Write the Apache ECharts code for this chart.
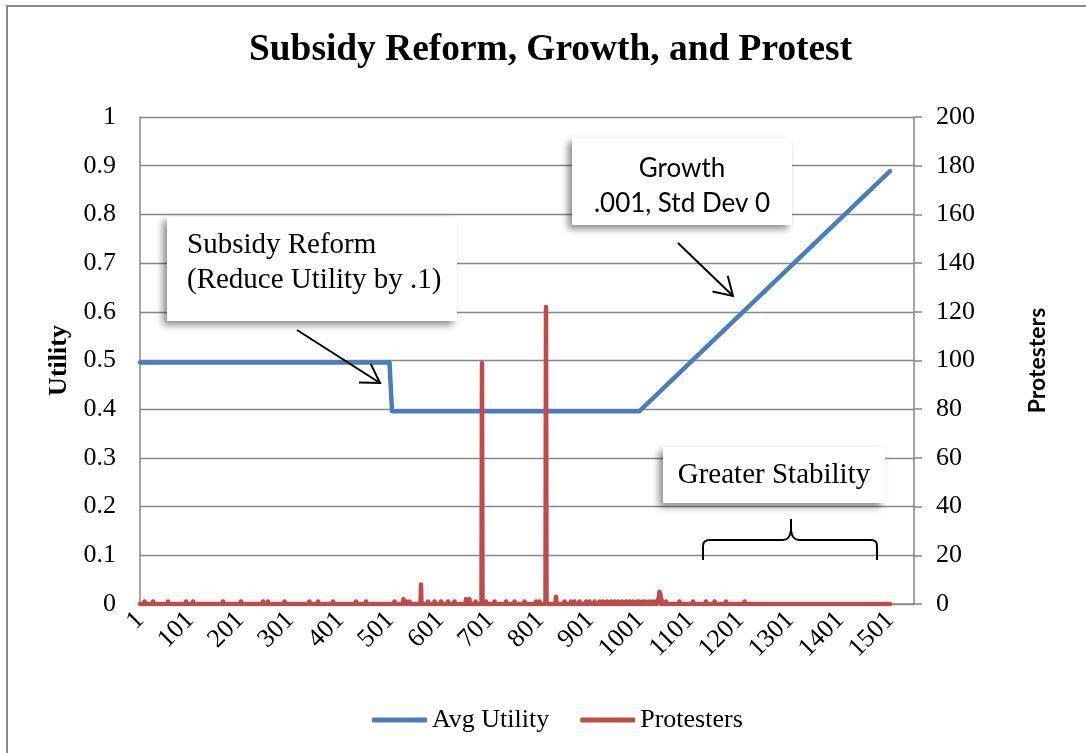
<!DOCTYPE html>
<html><head><meta charset="utf-8">
<script src="https://cdn.jsdelivr.net/npm/echarts@6/dist/echarts.min.js"></script>
<style>html,body{margin:0;padding:0;background:#fff}#c{width:1086px;height:753px}</style>
</head><body><div id="c"></div>
<script>
// ---- data ----
const titleText = 'Subsidy Reform, Growth, and Protest';
const seriesNames = ['Avg Utility', 'Protesters'];
const leftAxisName = 'Utility';
const rightAxisName = 'Protesters';
// Avg Utility: key steps of the piecewise line
const utilitySteps  = [1, 500, 505, 1000, 1501];
const utilityValues = [0.496, 0.496, 0.396, 0.396, 0.889];
// Protesters: non-zero observations (everything else reads as 0)
const protesterSteps  = [10, 27, 57, 93, 107, 167, 203, 247, 257, 290, 340, 357, 387, 433, 453, 510, 528, 534, 540, 563, 577, 590, 603, 617, 630, 653, 660, 672, 685, 693, 710, 733, 750, 770, 793, 800, 813, 833, 850, 863, 870, 880, 893, 900, 910, 920, 927, 935, 943, 950, 957, 965, 973, 980, 987, 995, 1000, 1007, 1013, 1020, 1027, 1033, 1039, 1040, 1041, 1042, 1044, 1053, 1080, 1107, 1133, 1150, 1173, 1210];
const protesterValues = [1, 1, 1, 1, 1, 1, 1, 1, 1, 1, 1, 1, 1, 1, 1, 1, 2, 1, 1, 8, 1, 1, 1, 1, 1, 2, 2, 1, 99, 1, 1, 1, 1, 1, 1, 1, 122, 3, 1, 1, 1, 1, 1, 1, 1, 1, 1, 1, 1, 1, 1, 1, 1, 1, 1, 1, 1, 1, 1, 1, 1, 1, 3, 5, 5, 4, 2, 1, 1, 1, 1, 1, 1, 1];
const firstStep = 1, lastStep = 1501, axisLastStep = 1549;
const xTickStep = 100;

// ---- build series data ----
const utilData = utilitySteps.map((s, i) => [s - 1, utilityValues[i]]);
const nz = new Map(protesterSteps.map((s, i) => [s, protesterValues[i]]));
const protData = [[firstStep - 1, 0]];
protesterSteps.forEach((s, i) => {
  if (!nz.has(s - 1)) protData.push([s - 2, 0]);
  protData.push([s - 1, protesterValues[i]]);
  if (!nz.has(s + 1)) protData.push([s, 0]);
});
protData.push([lastStep - 1, 0]);

const SERIF = '"Liberation Serif", "Times New Roman", serif';
const SANS = 'Lato, "Open Sans", sans-serif';
const GRID = '#878787';
const INK = { stroke: '#000', lineWidth: 2, fill: null };

function arrow(x1, y1, x2, y2, head, ang) {
  const a = Math.atan2(y2 - y1, x2 - x1);
  const p1 = [x2 - head * Math.cos(a - ang), y2 - head * Math.sin(a - ang)];
  const p2 = [x2 - head * Math.cos(a + ang), y2 - head * Math.sin(a + ang)];
  return [
    { type: 'line', z: 100, shape: { x1, y1, x2, y2 }, style: INK },
    { type: 'polyline', z: 100, shape: { points: [p1, [x2, y2], p2] }, style: INK }
  ];
}
function box(x, y, w, h) {
  return { type: 'rect', z: 90, shape: { x, y, width: w, height: h },
    style: { fill: '#fff', shadowBlur: 7, shadowOffsetX: -4, shadowOffsetY: 4, shadowColor: 'rgba(0,0,0,0.45)' } };
}
function seg(x1, y1, x2, y2) { return { type: 'line', z: 95, shape: { x1, y1, x2, y2 }, style: INK }; }
function curve(x1, y1, cx, cy, x2, y2) { return { type: 'bezierCurve', z: 95, shape: { x1, y1, x2, y2, cpx1: cx, cpy1: cy }, style: INK }; }
const brace = [
  seg(703, 560, 703, 546), curve(703, 546, 703, 540, 710, 540), seg(710, 540, 783, 540),
  curve(783, 540, 790, 540, 791, 530), seg(791, 530, 791, 519),
  curve(791, 530, 792, 540, 799, 540), seg(799, 540, 871, 540),
  curve(871, 540, 877, 540, 877, 546), seg(877, 546, 877, 560)
];

const chart = echarts.init(document.getElementById('c'), null, { renderer: 'canvas' });
chart.setOption({
  animation: false,
  backgroundColor: '#fff',
  title: { text: titleText, left: 244, top: 27,
    textStyle: { fontFamily: SERIF, fontSize: 37.4, fontWeight: 'bold', color: '#000' } },
  legend: { left: 367, top: 702, icon: 'roundRect', itemWidth: 55, itemHeight: 5, itemGap: 31,
    textStyle: { fontFamily: SERIF, fontSize: 26, color: '#000' },
    data: seriesNames },
  grid: { left: 140, right: 172, top: 117, bottom: 149, containLabel: false, outerBoundsMode: 'none' },
  xAxis: { type: 'value', min: 0, max: axisLastStep - 1, interval: xTickStep,
    axisLine: { show: true, lineStyle: { color: GRID, width: 1.5 } },
    axisTick: { show: false }, splitLine: { show: false },
    axisLabel: { rotate: 45, margin: 12, fontFamily: SERIF, fontSize: 26, color: '#000', showMaxLabel: false,
      formatter: v => (v % xTickStep === 0 ? String(v + 1) : '') } },
  yAxis: [
    { type: 'value', min: 0, max: 1, interval: 0.1, position: 'left',
      name: leftAxisName, nameLocation: 'middle', nameRotate: 90, nameGap: 65,
      nameTextStyle: { fontFamily: SERIF, fontSize: 26, fontWeight: 'bold', color: '#000' },
      axisLine: { show: true, lineStyle: { color: GRID, width: 1.5 } },
      axisTick: { show: false },
      splitLine: { show: true, lineStyle: { color: GRID, width: 1.3 } },
      axisLabel: { margin: 24, fontFamily: SERIF, fontSize: 26, color: '#000' } },
    { type: 'value', min: 0, max: 200, interval: 20, position: 'right',
      name: rightAxisName, nameLocation: 'middle', nameRotate: 90, nameGap: 112,
      nameTextStyle: { fontFamily: SANS, fontSize: 23, fontWeight: 'bold', color: '#000' },
      axisLine: { show: true, lineStyle: { color: GRID, width: 1.5 } },
      axisTick: { show: true, inside: false, length: 8, lineStyle: { color: GRID, width: 1.5 } },
      splitLine: { show: false },
      axisLabel: { margin: 22, fontFamily: SERIF, fontSize: 26, color: '#000' } }
  ],
  series: [
    { name: seriesNames[0], type: 'line', yAxisIndex: 0, data: utilData, symbol: 'none', showSymbol: false,
      lineStyle: { color: '#4A7EBB', width: 4.5, cap: 'round', join: 'round' }, itemStyle: { color: '#4A7EBB' } },
    { name: seriesNames[1], type: 'line', yAxisIndex: 1, data: protData, symbol: 'none', showSymbol: false,
      lineStyle: { color: '#BE4B48', width: 4.5, cap: 'round', join: 'round' }, itemStyle: { color: '#BE4B48' } }
  ],
  graphic: [
    { type: 'rect', z: 1, shape: { x: 7, y: 6, width: 1200, height: 1000 }, style: { fill: null, stroke: '#898989', lineWidth: 2 } },
    box(167, 217, 290, 104),
    { type: 'text', z: 95, x: 187, y: 228, style: { text: 'Subsidy Reform\n(Reduce Utility by .1)', font: '29px ' + SERIF, lineHeight: 35, fill: '#000' } },
    box(572, 138, 220, 87),
    { type: 'text', z: 95, x: 682, y: 151, style: { text: 'Growth\n.001, Std Dev 0', font: '26px ' + SANS, lineHeight: 35, fill: '#000', textAlign: 'center' } },
    box(663, 447, 222, 56),
    { type: 'text', z: 95, x: 774, y: 458, style: { text: 'Greater Stability', font: '29px ' + SERIF, lineHeight: 35, fill: '#000', textAlign: 'center' } },
    ...brace,
    ...arrow(297, 330, 380, 383, 21, 0.55),
    ...arrow(678, 243, 733, 296, 21, 0.55)
  ]
});
</script></body></html>
